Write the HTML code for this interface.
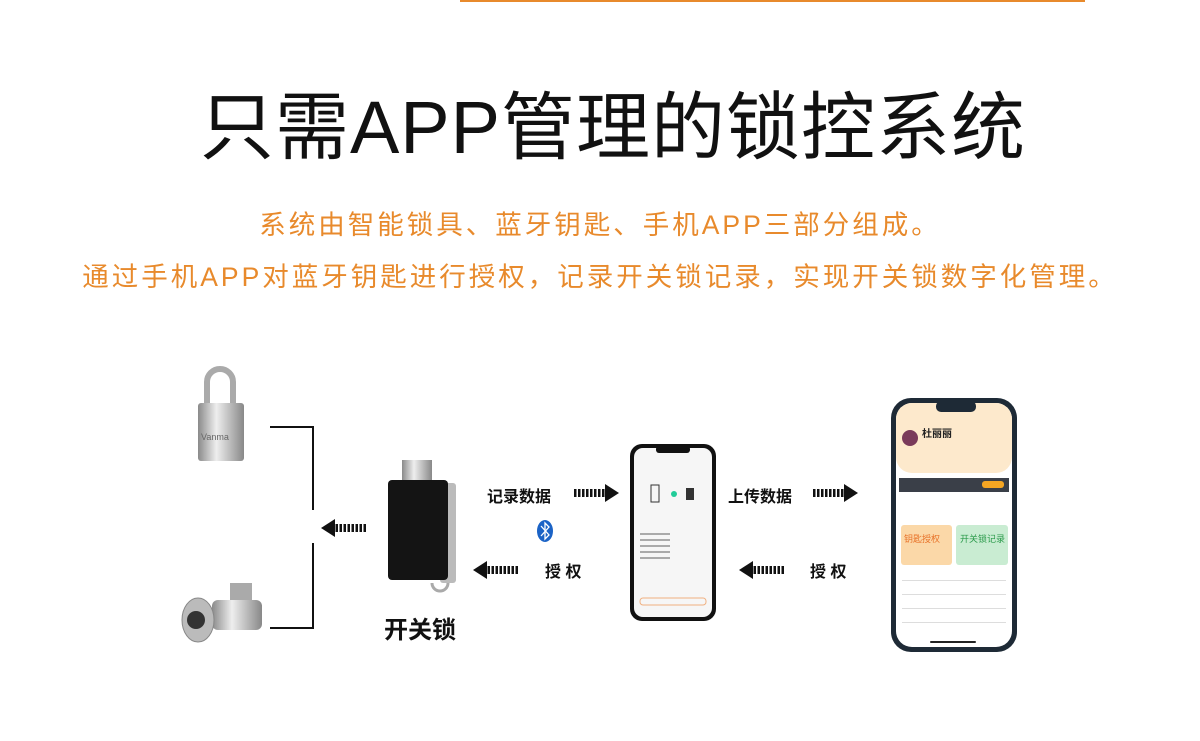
<!DOCTYPE html>
<html><head><meta charset="utf-8"><style>
body{margin:0;width:1200px;height:741px;background:#fff;position:relative;overflow:hidden;font-family:"Liberation Sans","Noto Sans CJK SC",sans-serif}
.t{position:absolute;white-space:nowrap}
.or{color:#e88a2c;font-size:26.5px;left:0;width:1200px;text-align:center;letter-spacing:3px}
.lb{font-weight:bold;font-size:16px;color:#111}
</style></head><body>
<div style="position:absolute;left:460px;top:0;width:625px;height:2px;background:#e88a2c"></div>
<div class="t" style="left:0;width:1226px;text-align:center;top:83px;font-size:74px;color:#111;line-height:90px;letter-spacing:1px">只需APP管理的锁控系统</div>
<div class="t or" style="top:203px">系统由智能锁具、蓝牙钥匙、手机APP三部分组成。</div>
<div class="t or" style="top:255px">通过手机APP对蓝牙钥匙进行授权，记录开关锁记录，实现开关锁数字化管理。</div>

<svg width="1200" height="741" style="position:absolute;left:0;top:0">
<defs>
<linearGradient id="met" x1="0" x2="1"><stop offset="0" stop-color="#8a8a8a"/><stop offset=".4" stop-color="#eee"/><stop offset="1" stop-color="#888"/></linearGradient>
<pattern id="st" width="4" height="10" patternUnits="userSpaceOnUse"><rect width="2.5" height="10" fill="#111"/></pattern>
<g id="ar"><rect x="0" y="-4" width="32" height="8" fill="url(#st)"/><polygon points="31,-9 45,0 31,9" fill="#111"/></g>
</defs>
<path d="M207 408 V382 a13 13 0 0 1 26 0 V408" fill="none" stroke="#aaa" stroke-width="6"/>
<rect x="198" y="403" width="46" height="58" rx="3" fill="url(#met)"/>
<text x="201" y="440" font-size="9" fill="#666" font-family="Liberation Sans">Vanma</text>
<rect x="230" y="583" width="22" height="40" fill="#aaa"/>
<rect x="212" y="600" width="50" height="30" rx="6" fill="url(#met)"/>
<ellipse cx="198" cy="620" rx="16" ry="22" fill="#bbb" stroke="#888"/>
<circle cx="196" cy="620" r="9" fill="#333"/>
<path d="M270 427 H313 V510 M313 543 V628 H270" fill="none" stroke="#111" stroke-width="2"/>
<use href="#ar" transform="translate(366,528) scale(-1,1)"/>
<rect x="402" y="460" width="30" height="22" fill="url(#met)"/>
<rect x="440" y="483" width="16" height="100" rx="3" fill="#bbb"/>
<rect x="388" y="480" width="60" height="100" rx="4" fill="#141414"/>
<path d="M432 583 a8 8 0 0 0 16 0" fill="none" stroke="#aaa" stroke-width="3"/>
<use href="#ar" transform="translate(574,493)"/>
<use href="#ar" transform="translate(518,570) scale(-1,1)"/>
<use href="#ar" transform="translate(813,493)"/>
<use href="#ar" transform="translate(784,570) scale(-1,1)"/>
<ellipse cx="545" cy="531" rx="8" ry="11" fill="#1b63c6"/>
<path d="M541 526 L549 535 L545 539 V523 L549 527 L541 536" fill="none" stroke="#fff" stroke-width="1.3"/>
<rect x="630" y="444" width="86" height="177" rx="12" fill="#111"/>
<rect x="634" y="448" width="78" height="169" rx="9" fill="#f6f6f6"/>
<rect x="656" y="446" width="34" height="7" rx="3" fill="#111"/>
<rect x="651" y="485" width="8" height="17" fill="none" stroke="#333"/>
<circle cx="674" cy="494" r="3" fill="#2c9"/>
<rect x="686" y="488" width="8" height="12" fill="#333"/>
<g><rect x="640" y="533" width="30" height="2" fill="#aaa"/><rect x="640" y="539" width="30" height="2" fill="#aaa"/><rect x="640" y="545" width="30" height="2" fill="#aaa"/><rect x="640" y="551" width="30" height="2" fill="#aaa"/><rect x="640" y="557" width="30" height="2" fill="#aaa"/></g>
<rect x="640" y="598" width="66" height="7" rx="3" fill="none" stroke="#f0b080"/>
<rect x="891" y="398" width="126" height="254" rx="20" fill="#1e2a36"/>
<rect x="896" y="403" width="116" height="244" rx="16" fill="#fff"/>
<rect x="896" y="403" width="116" height="70" rx="16" fill="#fde9cc"/>
<rect x="936" y="401" width="40" height="11" rx="5" fill="#1e2a36"/>
<circle cx="910" cy="438" r="8" fill="#7a3a5a"/>
<text x="922" y="437" font-size="10" font-weight="bold" fill="#222">杜丽丽</text>
<rect x="899" y="478" width="110" height="14" fill="#3a3f48"/>
<rect x="982" y="481" width="22" height="7" rx="3" fill="#f5a623"/>
<rect x="901" y="525" width="51" height="40" rx="3" fill="#fbd8a8"/>
<rect x="956" y="525" width="52" height="40" rx="3" fill="#c9ecd2"/>
<text x="904" y="542" font-size="9" fill="#e8732a">钥匙授权</text>
<text x="960" y="542" font-size="9" fill="#2a9a4a">开关锁记录</text>
<g fill="#ddd"><rect x="902" y="580" width="104" height="1"/><rect x="902" y="594" width="104" height="1"/><rect x="902" y="608" width="104" height="1"/><rect x="902" y="622" width="104" height="1"/></g>
<rect x="930" y="641" width="46" height="2" rx="1" fill="#222"/>
</svg>
<div class="t lb" style="left:487px;top:483px">记录数据</div>
<div class="t lb" style="left:545px;top:558px">授 权</div>
<div class="t lb" style="left:728px;top:483px">上传数据</div>
<div class="t lb" style="left:810px;top:558px">授 权</div>
<div class="t" style="left:384px;top:610px;font-size:24px;font-weight:bold;color:#111">开关锁</div>
</body></html>
